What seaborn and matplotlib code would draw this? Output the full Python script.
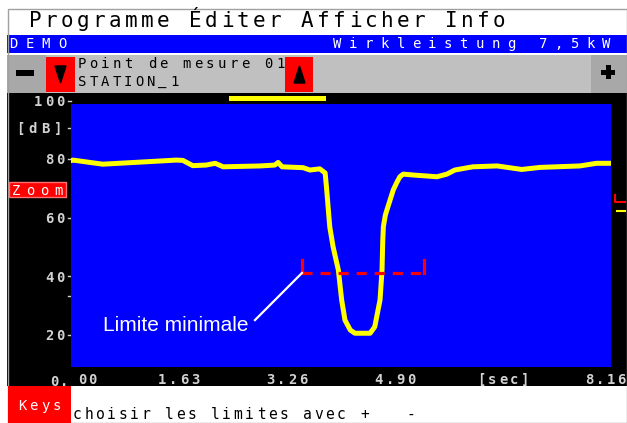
import matplotlib
matplotlib.use("Agg")
import matplotlib.pyplot as plt
import seaborn as sns
import pandas as pd
from matplotlib.patches import Rectangle, Polygon

plt.rcParams["lines.scale_dashes"] = False

# ---------------- data ----------------
times = [0.00, 0.03, 0.48, 1.04, 1.59, 1.69, 1.84, 2.04, 2.18, 2.30,
         2.86, 3.08, 3.13, 3.19, 3.51, 3.61, 3.76, 3.84, 3.86, 3.91,
         3.96, 4.04, 4.09, 4.14, 4.22, 4.29, 4.52, 4.59, 4.67, 4.70,
         4.71, 4.72, 4.75, 4.79, 4.87, 4.92, 4.97, 5.02, 5.17, 5.53,
         5.68, 5.80, 6.07, 6.44, 6.81, 7.09, 7.69, 7.94, 8.13, 8.16]
levels = [79.6, 79.8, 78.4, 79.1, 79.8, 79.7, 77.9, 78.1, 78.7, 77.5,
          77.8, 78.1, 79.0, 77.5, 77.2, 76.4, 76.8, 75.4, 70.7, 57.0,
          50.2, 42.2, 32.0, 25.1, 21.7, 20.6, 20.6, 22.8, 32.0, 42.2,
          51.5, 57.0, 61.0, 63.9, 69.6, 72.0, 74.1, 75.0, 74.7, 74.1,
          75.0, 76.4, 77.5, 77.8, 76.6, 77.3, 77.8, 78.7, 78.7, 78.7]

limit_start = 3.49
limit_end = 5.34
limit_level = 41.2
limit_tick_top = 45.6
label_anchor = (2.78, 25.1)
label_pos = (0.48, 21.4)
label_text = "Limite minimale"

y_tick_values = [100, 80, 60, 40, 20]
y_tick_labels = ["100", "80", "60", "40", "20"]
x_tick_values = [1.63, 3.26, 4.90, 6.53, 8.16]
x_tick_labels = ["1.63", "3.26", "4.90", "[sec]", "8.16"]
x_max = 8.16

menu_text = "Programme Éditer Afficher Info"
status_left = "DEMO"
status_right = "Wirkleistung 7,5kW"
point_text = "Point de mesure 01"
station_text = "STATION_1"
hint_text = "choisir les limites avec +   -"

df = pd.DataFrame({"t": times, "dB": levels})

# ---------------- layout ----------------
W, H = 627, 423
fig = plt.figure(figsize=(6.27, 4.23), dpi=100)
fig.patch.set_facecolor("white")

cax = fig.add_axes([0, 0, 1, 1], zorder=0)
cax.set_xlim(0, W)
cax.set_ylim(H, 0)
cax.axis("off")

PX0, PX1, PY0, PY1 = 71, 611, 104, 367
ax = fig.add_axes([PX0 / W, 1 - PY1 / H, (PX1 - PX0) / W, (PY1 - PY0) / H], zorder=1)
ax.set_facecolor("#0000ff")
dpp = 80 / 234.0
ax.set_ylim(100 - (PY1 - 101) * dpp, 100 - (PY0 - 101) * dpp)
ax.set_xlim(0, x_max)

MONO = "DejaVu Sans Mono"


def spaced(x, y, s, pitch, ha="left", **kw):
    n = len(s)
    if ha == "left":
        x0 = x
    elif ha == "center":
        x0 = x - pitch * (n - 1) / 2
    else:
        x0 = x - pitch * (n - 1)
    for i, ch in enumerate(s):
        if ch != " ":
            cax.text(x0 + i * pitch, y, ch, ha="center", va="baseline",
                     family=MONO, **kw)


def rect(x0, y0, x1, y1, color, **kw):
    cax.add_patch(Rectangle((x0, y0), x1 - x0, y1 - y0, facecolor=color,
                            edgecolor=kw.pop("ec", "none"), **kw))


# frame / background regions
rect(7, 93, W, 386, "black")
rect(7, 35, W, 53, "#0000ff")
rect(7, 55, W, 93, "#c0c0c0")
rect(7, 55, 46, 93, "#a8a8a8")
rect(591, 55, W, 93, "#a8a8a8")
rect(46, 57, 75, 92, "#ff0000")
rect(285, 57, 313, 92, "#ff0000")
cax.add_patch(Rectangle((7.5, 9.5), W - 8, H - 9, fill=False, edgecolor="#a0a0a0", lw=1))

# buttons
cax.add_patch(Polygon([[55, 66], [66, 66], [60.5, 83]], closed=True, color="black"))
cax.add_patch(Polygon([[294, 83], [305, 83], [299.5, 66]], closed=True, color="black"))
rect(16, 70, 34, 76, "black")
rect(601, 70, 615, 75, "black")
rect(605.5, 65.5, 610.5, 79.5, "black")

# yellow scroll indicator
rect(229, 96, 326, 101, "#ffff00")

# texts at top
spaced(35, 27, menu_text, 16, color="black", fontsize=15)
spaced(13, 48, status_left, 16.5, color="white", fontsize=10)
spaced(606, 48, status_right, 15.8, ha="right", color="white", fontsize=10)
spaced(82, 68, point_text, 11.65, color="black", fontsize=10)
spaced(82, 86, station_text, 11.5, color="black", fontsize=10)

# bottom bar
rect(8, 386, 71, H, "#ff0000")
spaced(22, 410, "Keys", 11.7, color="white", fontsize=10)
spaced(77, 419, hint_text, 11.5, color="black", fontsize=10.5)

# ---------------- the chart ----------------
sns.lineplot(data=df, x="t", y="dB", ax=ax, color="#ffff00", linewidth=3.6,
             estimator=None, sort=False, solid_joinstyle="round",
             solid_capstyle="round")
ax.set_xlabel("")
ax.set_ylabel("")
ax.set_xticks([])
ax.set_yticks([])
for sp in ax.spines.values():
    sp.set_visible(False)

# limit marker (red dashed)
ax.plot([limit_start, limit_end], [limit_level, limit_level], color="#ff0000",
        lw=2.3, dashes=(7.2, 5.8), dash_capstyle="butt")
ax.plot([limit_start, limit_start], [limit_level, limit_tick_top], color="#ff0000", lw=2.3)
ax.plot([limit_end, limit_end], [limit_level, limit_tick_top], color="#ff0000", lw=2.3)

# annotation
ax.plot([limit_start, label_anchor[0]], [limit_level, label_anchor[1]],
        color="white", lw=1.6)
ax.text(label_pos[0], label_pos[1], label_text, color="white", fontsize=15,
        family="Liberation Sans", ha="left", va="baseline")

fig.canvas.draw()


def to_px(x, y):
    dx, dy = ax.transData.transform((x, y))
    return dx, H - dy


TICKC = "#d2d2d2"
for v, lab in zip(y_tick_values, y_tick_labels):
    px, py = to_px(0, v)
    spaced(px - 11, py + 5, lab, 11, ha="right", color=TICKC, fontsize=10, fontweight="bold")
    cax.plot([px - 3, px], [py, py], color=TICKC, lw=1)
_, pdb = to_px(0, 90)
spaced(58, pdb + 3, "[dB]", 12.7, ha="right", color=TICKC, fontsize=10, fontweight="bold")
cax.plot([68, 71], [pdb - 2, pdb - 2], color=TICKC, lw=1)
_, p30 = to_px(0, 33.5)
cax.plot([68, 71], [p30, p30], color=TICKC, lw=1)

for v, lab in zip(x_tick_values, x_tick_labels):
    px, _ = to_px(v, 0)
    if px > W - 25:
        spaced(W - 6, 384, lab, 10.5, ha="right", color=TICKC, fontsize=10, fontweight="bold")
    else:
        spaced(px, 384, lab, 11, ha="center", color=TICKC, fontsize=10, fontweight="bold")
spaced(64, 386, "0.", 10, ha="right", color=TICKC, fontsize=10, fontweight="bold")
spaced(82, 384, "00", 10.5, color=TICKC, fontsize=10, fontweight="bold")

# Zoom button
cax.add_patch(Rectangle((8.5, 182.5), 57, 15, facecolor="#ff0000", edgecolor="#ff7070", lw=1))
spaced(16, 195, "Zoom", 14, color="white", fontsize=10)

# right side limit markers
cax.plot([615, 615, 625], [195, 202, 202], color="#ff0000", lw=1.5)
cax.plot([617, 625], [211, 211], color="#ffff00", lw=1.5)

fig.savefig("out.png", dpi=100, facecolor=fig.get_facecolor())
